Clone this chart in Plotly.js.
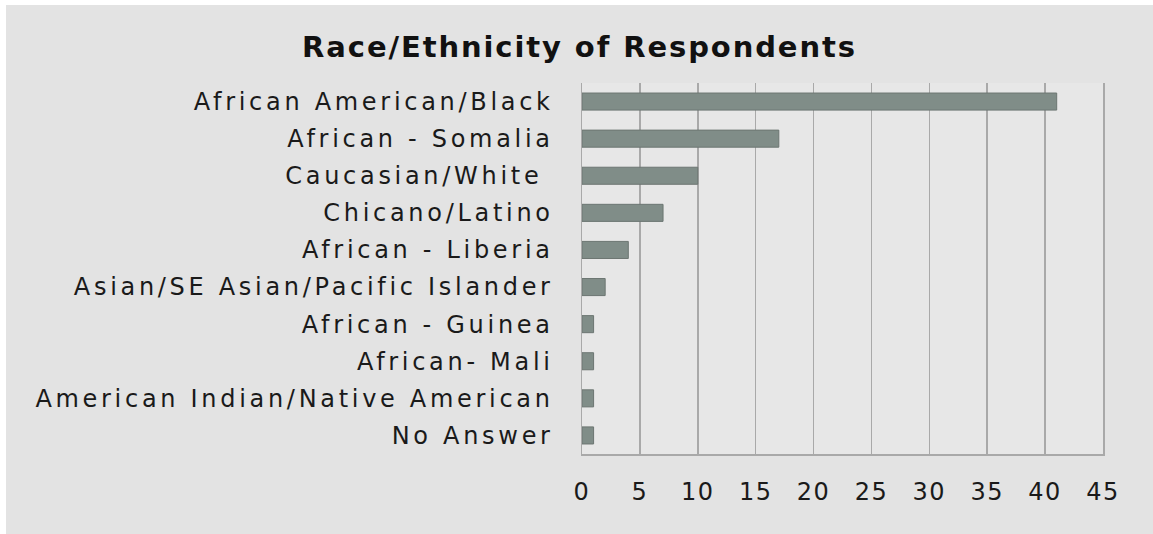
<!DOCTYPE html>
<html>
<head>
<meta charset="utf-8">
<script src="https://cdn.plot.ly/plotly-3.0.1.min.js"></script>
<style>
  html, body { margin: 0; padding: 0; background: #ffffff; width: 1153px; height: 534px; overflow: hidden; }
  #chart { position: absolute; left: 6px; top: 5px; width: 1147px; height: 529px; }
  #chart .ytick text { letter-spacing: 3.7px; }
  #chart .xtick text { letter-spacing: 1.5px; }
  #chart .gtitle { letter-spacing: 1.9px; }
</style>
</head>
<body>
<div id="chart"></div>
<script>
const categories = [
  "African American/Black",
  "African - Somalia",
  "Caucasian/White ",
  "Chicano/Latino",
  "African - Liberia",
  "Asian/SE Asian/Pacific Islander",
  "African - Guinea",
  "African- Mali",
  "American Indian/Native American",
  "No Answer"
];
const counts = [41, 17, 10, 7, 4, 2, 1, 1, 1, 1];
const xTicks = [0, 5, 10, 15, 20, 25, 30, 35, 40, 45];
const chartTitle = "Race/Ethnicity of Respondents";

const font = "DejaVu Sans, sans-serif";

const trace = {
  type: "bar",
  orientation: "h",
  y: categories,
  x: counts,
  marker: { color: "#808d88", line: { color: "#6c7672", width: 1 } },
  hoverinfo: "x+y"
};

const layout = {
  width: 1147,
  height: 529,
  paper_bgcolor: "#e3e3e3",
  plot_bgcolor: "#e7e7e7",
  margin: { l: 576, r: 50, t: 78, b: 80, pad: 0 },
  bargap: 0.54,
  showlegend: false,
  title: {
    text: "<b>" + chartTitle + "</b>",
    x: 0.5, xanchor: "center",
    y: 1 - 42 / 529, yanchor: "middle",
    font: { family: font, size: 29, color: "#111111" }
  },
  xaxis: {
    range: [0, 45],
    tickvals: xTicks,
    ticktext: xTicks.map(String),
    showgrid: true,
    gridcolor: "#a9a9a9",
    gridwidth: 1.5,
    zeroline: false,
    showline: true,
    linecolor: "#a9a9a9",
    linewidth: 1.5,
    ticks: "",
    ticklabelstandoff: 16,
    tickfont: { family: font, size: 24, color: "#1a1a1a" },
    fixedrange: true
  },
  yaxis: {
    autorange: "reversed",
    showgrid: false,
    zeroline: false,
    showline: true,
    mirror: true,
    linecolor: "#a9a9a9",
    linewidth: 1.5,
    ticks: "",
    ticklabelstandoff: 22,
    tickfont: { family: font, size: 24, color: "#1a1a1a" },
    fixedrange: true
  }
};

Plotly.newPlot("chart", [trace], layout, { displayModeBar: false, staticPlot: true });
</script>
</body>
</html>
